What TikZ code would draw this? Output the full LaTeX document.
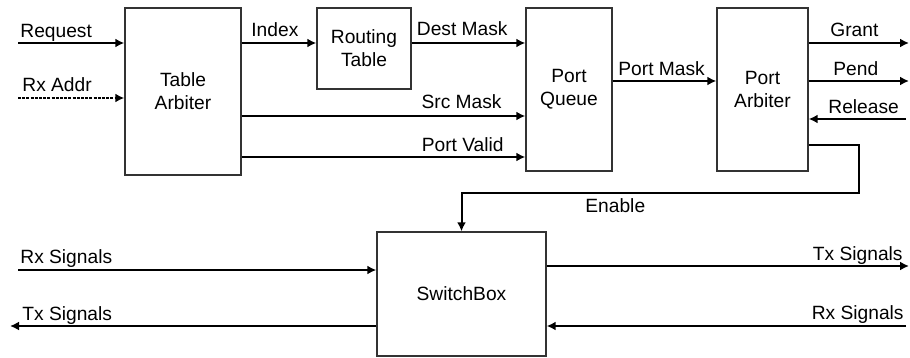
\documentclass[tikz,border=0pt]{standalone}
\usepackage{fontspec}
\setmainfont{Liberation Sans}
\usetikzlibrary{arrows.meta}

\begin{document}
\begin{tikzpicture}[x=0.5pt, y=-0.5pt,
	font=\fontsize{9.6pt}{11.5pt}\selectfont,
	blk/.style={draw=black!80, line width=0.7pt, inner sep=0pt, align=center},
	sig/.style={line width=1pt, -{Latex[length=4.5pt,width=4.5pt]}},
	lbl/.style={inner sep=0pt}]
	\useasboundingbox (0,0) rectangle (910,358);
	\node[blk, minimum width=58pt, minimum height=83.5pt] (ta) at (183,91.5) {Table\\Arbiter};
	\node[blk, minimum width=47pt, minimum height=40.5pt] (rt) at (364,48.5) {Routing\\Table};
	\node[blk, minimum width=43pt, minimum height=81.5pt] (pq) at (569,89.5) {Port\\Queue};
	\node[blk, minimum width=45.5pt, minimum height=81.5pt] (pa) at (762.5,89.5) {Port\\Arbiter};
	\node[blk, minimum width=84.5pt, minimum height=62pt] (sb) at (461.5,294) {SwitchBox};
	\coordinate (reqin) at (18,43);
	\coordinate (addrin) at (18,98);
	\coordinate (grantout) at (909,43);
	\coordinate (pendout) at (909,81);
	\coordinate (relin) at (906,119);
	\coordinate (bend) at (859,193);
	\coordinate (rxl) at (18,270);
	\coordinate (txl) at (10,326);
	\coordinate (txr) at (909,266);
	\coordinate (rxr) at (906,326);
	% connectors
	\draw[sig] (reqin) -- (ta.west |- reqin);
	\draw[sig, dash pattern=on 1.5pt off 0.6pt] (addrin) -- (ta.west |- addrin);
	\draw[sig] (ta.east |- reqin) -- (rt.west |- reqin);
	\draw[sig] (rt.east |- reqin) -- (pq.west |- reqin);
	\draw[sig] (ta.east |- 0,116) -- (pq.west |- 0,116);
	\draw[sig] (ta.east |- 0,157) -- (pq.west |- 0,157);
	\draw[sig] (pq.east |- 0,81) -- (pa.west |- 0,81);
	\draw[sig] (pa.east |- grantout) -- (grantout);
	\draw[sig] (pa.east |- pendout) -- (pendout);
	\draw[sig] (relin) -- (pa.east |- relin);
	\draw[sig] (pa.east |- 0,145) -| (bend) -| (sb.north);
	\draw[sig] (rxl) -- (sb.west |- rxl);
	\draw[sig] (sb.west |- txl) -- (txl);
	\draw[sig] (sb.east |- txr) -- (txr);
	\draw[sig] (rxr) -- (sb.east |- rxr);
	% labels
	\node[lbl, anchor=base west] (l_req) at (20,38) {Request};
	\node[lbl, anchor=base west] (l_addr) at (22,92) {Rx Addr};
	\node[lbl, anchor=base west] (l_idx) at (251,37) {Index};
	\node[lbl, anchor=base east] (l_dest) at (508,36) {Dest Mask};
	\node[lbl, anchor=base east] (l_src) at (502,109) {Src Mask};
	\node[lbl, anchor=base east] (l_valid) at (504,151) {Port Valid};
	\node[lbl, anchor=base west] (l_pmask) at (618,76) {Port Mask};
	\node[lbl, anchor=base west] (l_grant) at (830,37) {Grant};
	\node[lbl, anchor=base west] (l_pend) at (833,76) {Pend};
	\node[lbl, anchor=base west] (l_rel) at (828,114) {Release};
	\node[lbl, anchor=base west] (l_en) at (585,213) {Enable};
	\node[lbl, anchor=base west] (l_rxl) at (20,263) {Rx Signals};
	\node[lbl, anchor=base west] (l_txl) at (22,320) {Tx Signals};
	\node[lbl, anchor=base east] (l_txr) at (903,260) {Tx Signals};
	\node[lbl, anchor=base east] (l_rxr) at (904,319) {Rx Signals};
\end{tikzpicture}
\end{document}
